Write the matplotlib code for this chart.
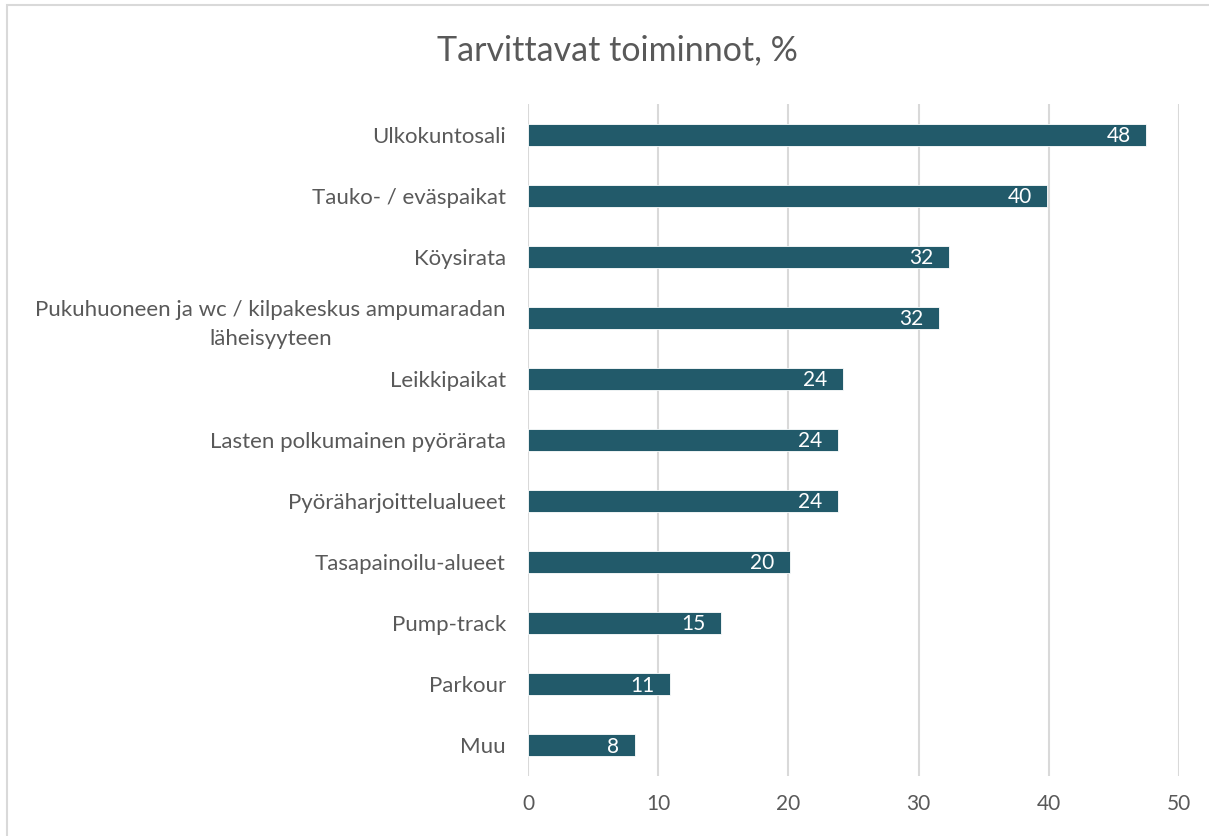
import matplotlib
matplotlib.use("Agg")
import matplotlib.pyplot as plt
from matplotlib.patches import Rectangle

categories = [
    "Ulkokuntosali",
    "Tauko- / eväspaikat",
    "Köysirata",
    "Pukuhuoneen ja wc / kilpakeskus ampumaradan\nläheisyyteen",
    "Leikkipaikat",
    "Lasten polkumainen pyörärata",
    "Pyöräharjoittelualueet",
    "Tasapainoilu-alueet",
    "Pump-track",
    "Parkour",
    "Muu",
]
values = [47.5, 39.9, 32.3, 31.6, 24.2, 23.8, 23.8, 20.1, 14.8, 10.9, 8.2]
xticks = [0, 10, 20, 30, 40, 50]

plt.rcParams['font.family'] = ['Lato', 'DejaVu Sans']
bar_color = "#225A6A"
text_color = "#595959"

fig = plt.figure(figsize=(12.09, 8.36), dpi=100)
fig.patches.append(Rectangle((7/1209, -0.1), 1.2, 1 - 5/836 + 0.1, transform=fig.transFigure,
                             fill=False, edgecolor="#D9D9D9", linewidth=1.5))
ax = fig.add_axes([528/1209, 1 - 776/836, (1179 - 528)/1209, (776 - 104)/836])

y = list(range(len(categories)))
bars = ax.barh(y, values, height=0.36, color=bar_color, edgecolor="white", linewidth=0.6, zorder=3)
ax.set_ylim(len(categories) - 0.5, -0.5)
ax.set_xlim(0, 50)
ax.set_xticks(xticks)
ax.set_xticklabels([str(t) for t in xticks])
ax.set_yticks(y)
ax.set_yticklabels(categories, fontsize=16, color=text_color, linespacing=1.6)
ax.tick_params(axis='both', length=0, colors=text_color)
ax.tick_params(axis='x', labelsize=15, pad=13)
ax.tick_params(axis='y', pad=16)
for lbl in ax.get_yticklabels():
    lbl.set_horizontalalignment('right')
    lbl.set_multialignment('center')
ax.grid(axis='x', color="#D9D9D9", linewidth=1.5, zorder=0)
for s in ax.spines.values():
    s.set_visible(False)

for b, v in zip(bars, values):
    ax.text(v - 1.2, b.get_y() + b.get_height()/2 + 0.02, f"{round(v)}", ha='right', va='center',
            color='white', fontsize=15, zorder=4)

fig.text(617/1209, 1 - 50/836, "Tarvittavat toiminnot, %", ha='center', va='center',
         fontsize=24.5, color=text_color)

fig.savefig("out.png", dpi=100)
